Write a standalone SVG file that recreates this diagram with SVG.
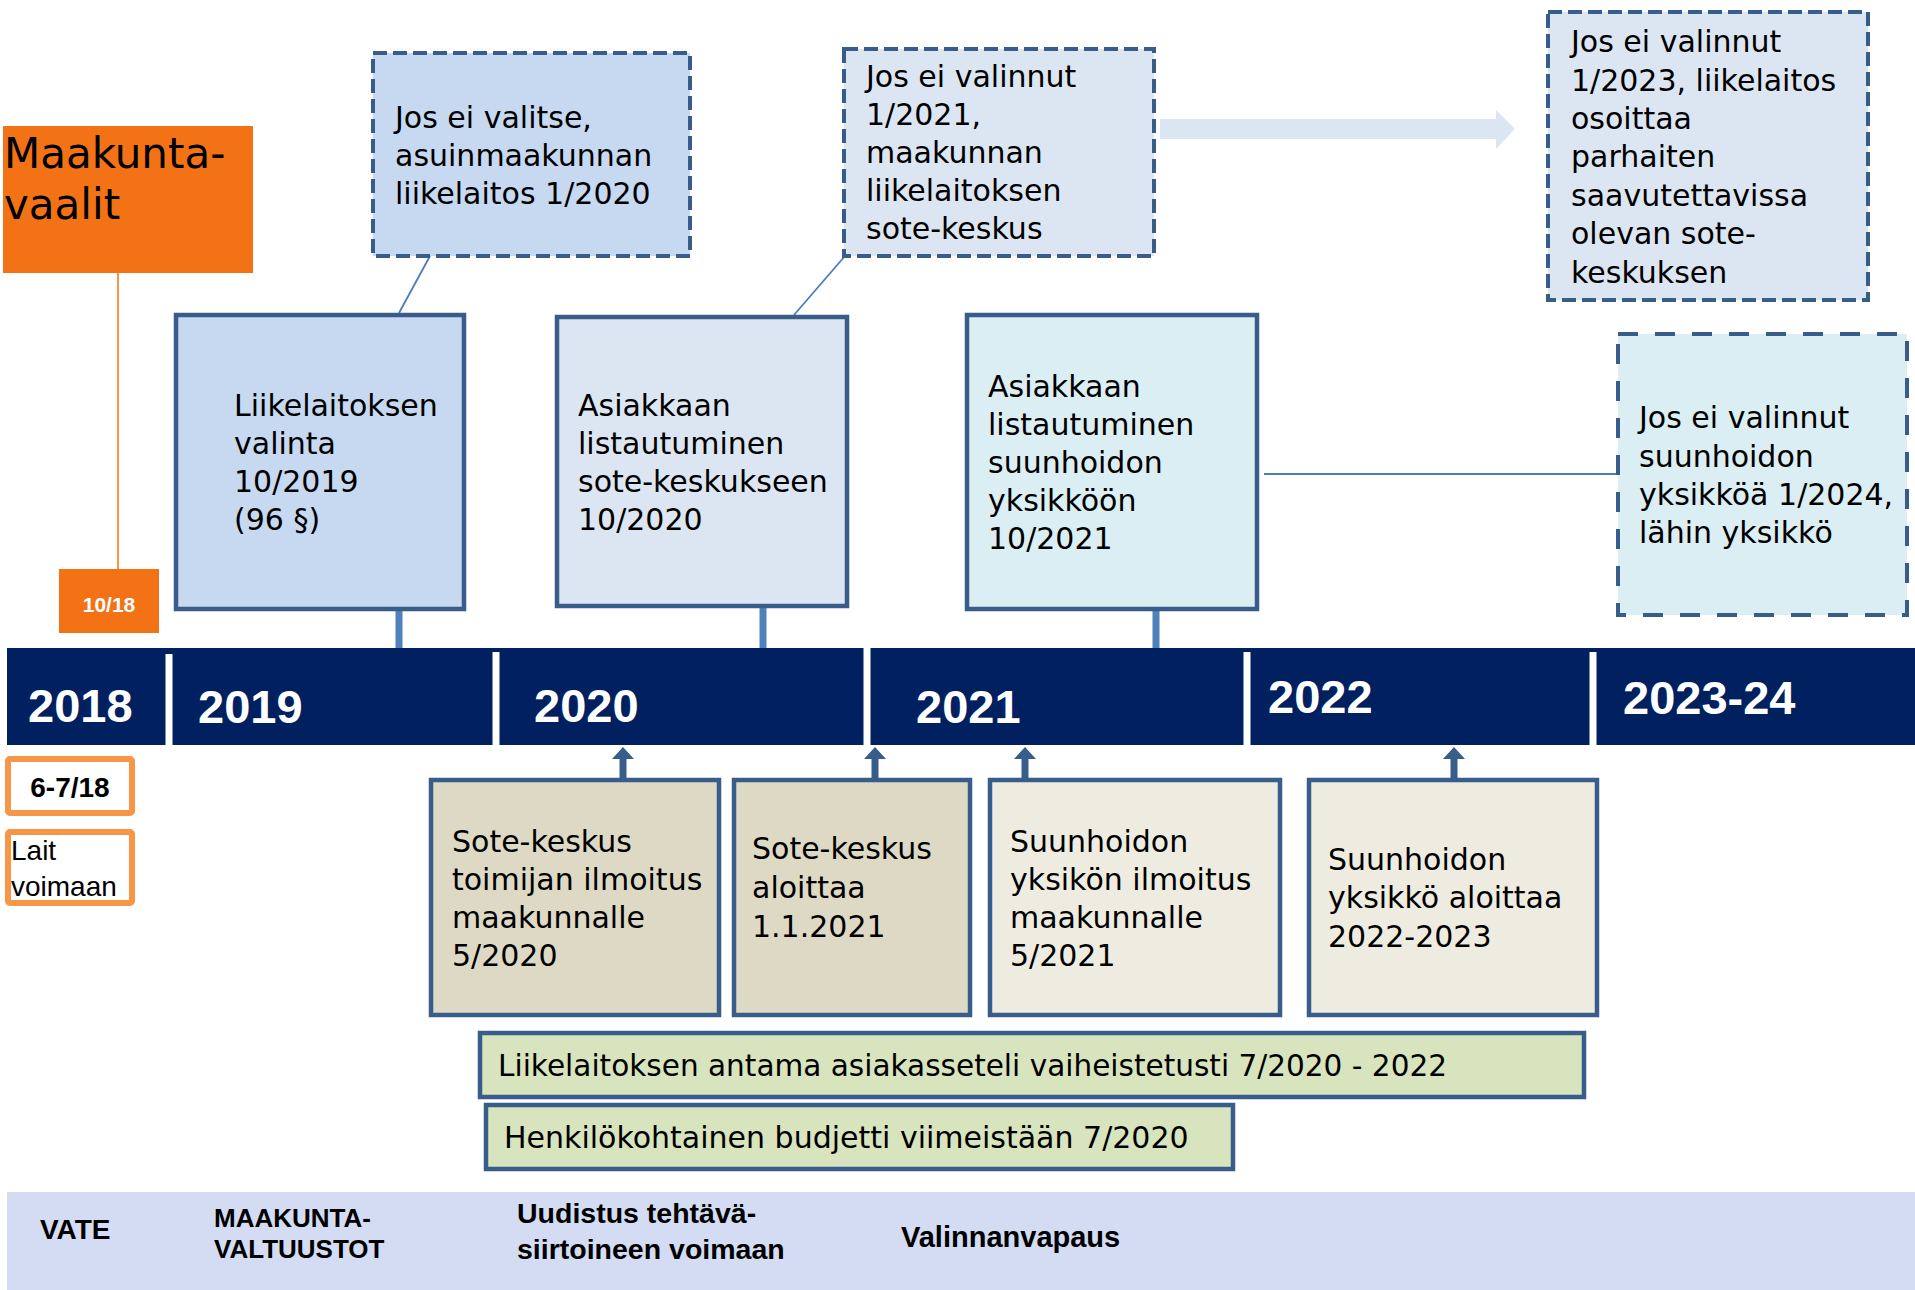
<svg xmlns="http://www.w3.org/2000/svg" width="1915" height="1290" viewBox="0 0 1915 1290">
<defs>
<style>
.t{font-family:"DejaVu Sans","Liberation Sans",sans-serif;font-size:30px;fill:#000}
.big{font-size:42px}
.yr{font-family:"Liberation Sans",Arial,sans-serif;font-weight:bold;font-size:47px;fill:#fff}
.b{font-family:"Liberation Sans",Arial,sans-serif;font-weight:bold;fill:#000}
.solid{stroke:#385D8A;stroke-width:4.5}
.dash{stroke:#385D8A;stroke-width:4;stroke-dasharray:14 6}
.dash2{stroke:#385D8A;stroke-width:4;stroke-dasharray:20 17}
.stub{stroke:#4F81BD;stroke-width:7}
.thin{stroke:#4A7EBB;stroke-width:1.8;fill:none}
.up{stroke:#385D8A;stroke-width:7;marker-end:url(#ah)}
</style>
<marker id="ah" viewBox="0 0 12 22" markerWidth="12" markerHeight="22" markerUnits="userSpaceOnUse" refX="0" refY="11" orient="auto">
<path d="M0,0 L12,11 L0,22 z" fill="#385D8A"/>
</marker>
</defs>
<rect width="1915" height="1290" fill="#fff"/>

<g id="bottom-band">
<rect x="7" y="1192" width="1908" height="98" fill="#D3DCF3"/>
<text class="b" x="40" y="1239" font-size="28">VATE</text>
<text class="b" font-size="26"><tspan x="214" y="1227">MAAKUNTA-</tspan><tspan x="214" y="1258">VALTUUSTOT</tspan></text>
<text class="b" font-size="28.5"><tspan x="517" y="1223">Uudistus tehtävä-</tspan><tspan x="517" y="1259">siirtoineen voimaan</tspan></text>
<text class="b" x="901" y="1247" font-size="29">Valinnanvapaus</text>
</g>

<g id="connectors">
<line x1="118" y1="273" x2="118" y2="569" stroke="#F79646" stroke-width="2"/>
<line class="stub" x1="399" y1="609" x2="399" y2="648"/>
<line class="stub" x1="763" y1="607" x2="763" y2="648"/>
<line class="stub" x1="1156" y1="609" x2="1156" y2="648"/>
<line class="thin" x1="430" y1="256" x2="399" y2="313"/>
<line class="thin" x1="845" y1="256" x2="794" y2="315"/>
<line class="thin" x1="1264" y1="474" x2="1618" y2="474"/>
<path d="M1160,119 L1496,119 L1496,110 L1515,129 L1496,149 L1496,139 L1160,139 z" fill="#DCE6F2"/>
<line class="up" x1="623" y1="778" x2="623" y2="759"/>
<line class="up" x1="875" y1="778" x2="875" y2="759"/>
<line class="up" x1="1025" y1="778" x2="1025" y2="759"/>
<line class="up" x1="1454" y1="778" x2="1454" y2="759"/>
</g>

<g id="timeline-bar">
<rect x="7" y="648" width="1908" height="97" fill="#002060"/>
<g stroke="#fff" stroke-width="7">
<line x1="169" y1="654" x2="169" y2="745"/>
<line x1="496" y1="652" x2="496" y2="745"/>
<line x1="867" y1="648" x2="867" y2="745"/>
<line x1="1247" y1="652" x2="1247" y2="745"/>
<line x1="1593" y1="652" x2="1593" y2="745"/>
</g>
<text class="yr" x="28" y="722">2018</text>
<text class="yr" x="198" y="723">2019</text>
<text class="yr" x="534" y="722">2020</text>
<text class="yr" x="916" y="723">2021</text>
<text class="yr" x="1268" y="713">2022</text>
<text class="yr" x="1623" y="714">2023-24</text>
</g>

<g id="maakuntavaalit">
<rect x="3" y="126" width="250" height="147" fill="#F47216"/>
<text class="t big"><tspan x="4" y="168">Maakunta-</tspan><tspan x="4" y="219">vaalit</tspan></text>
</g>

<g id="d1018">
<rect x="59" y="569" width="100" height="64" fill="#F47216"/>
<text class="b" x="109" y="612" font-size="21" text-anchor="middle" style="fill:#fff">10/18</text>
</g>

<g id="d67-18">
<rect x="8" y="759" width="124" height="54" fill="#fff" stroke="#F79646" stroke-width="6" rx="2"/>
<text class="b" x="70" y="797" font-size="28" text-anchor="middle">6-7/18</text>
</g>

<g id="lait-voimaan">
<rect x="8" y="832" width="124" height="71" fill="#fff" stroke="#F79646" stroke-width="6" rx="2"/>
<text font-family="Liberation Sans, Arial, sans-serif" font-size="28"><tspan x="11" y="860">Lait</tspan><tspan x="11" y="896">voimaan</tspan></text>
</g>

<g id="jos-ei-valitse">
<rect class="dash" x="373" y="53" width="317" height="203" fill="#C6D9F1"/>
<text class="t"><tspan x="395" y="128">Jos ei valitse,</tspan><tspan x="395" y="166">asuinmaakunnan</tspan><tspan x="395" y="204">liikelaitos 1/2020</tspan></text>
</g>

<g id="jos-ei-valinnut-2021">
<rect class="dash" x="844" y="49" width="310" height="207" fill="#DCE6F2"/>
<text class="t"><tspan x="866" y="87">Jos ei valinnut</tspan><tspan x="866" y="125">1/2021,</tspan><tspan x="866" y="163">maakunnan</tspan><tspan x="866" y="201">liikelaitoksen</tspan><tspan x="866" y="239">sote-keskus</tspan></text>
</g>

<g id="jos-ei-valinnut-2023">
<rect class="dash" x="1548" y="12" width="320" height="288" fill="#DCE6F2"/>
<text class="t"><tspan x="1571" y="52">Jos ei valinnut</tspan><tspan x="1571" y="91">1/2023, liikelaitos</tspan><tspan x="1571" y="129">osoittaa</tspan><tspan x="1571" y="167">parhaiten</tspan><tspan x="1571" y="206">saavutettavissa</tspan><tspan x="1571" y="244">olevan sote-</tspan><tspan x="1571" y="283">keskuksen</tspan></text>
</g>

<g id="jos-ei-valinnut-2024">
<rect class="dash2" x="1618" y="334" width="289" height="281" fill="#DBEEF4"/>
<text class="t"><tspan x="1639" y="428">Jos ei valinnut</tspan><tspan x="1639" y="467">suunhoidon</tspan><tspan x="1639" y="505">yksikköä 1/2024,</tspan><tspan x="1639" y="543">lähin yksikkö</tspan></text>
</g>

<g id="liikelaitoksen-valinta">
<rect class="solid" x="176" y="315" width="288" height="294" fill="#C6D9F1"/>
<text class="t"><tspan x="234" y="416">Liikelaitoksen</tspan><tspan x="234" y="454">valinta</tspan><tspan x="234" y="492">10/2019</tspan><tspan x="234" y="530">(96 §)</tspan></text>
</g>

<g id="listautuminen-sote">
<rect class="solid" x="557" y="317" width="290" height="289" fill="#DCE6F2"/>
<text class="t"><tspan x="578" y="416">Asiakkaan</tspan><tspan x="578" y="454">listautuminen</tspan><tspan x="578" y="492">sote-keskukseen</tspan><tspan x="578" y="530">10/2020</tspan></text>
</g>

<g id="listautuminen-suunhoito">
<rect class="solid" x="967" y="315" width="290" height="294" fill="#DBEEF4"/>
<text class="t"><tspan x="988" y="397">Asiakkaan</tspan><tspan x="988" y="435">listautuminen</tspan><tspan x="988" y="473">suunhoidon</tspan><tspan x="988" y="511">yksikköön</tspan><tspan x="988" y="549">10/2021</tspan></text>
</g>

<g id="sote-ilmoitus">
<rect class="solid" x="431" y="780" width="288" height="235" fill="#DDD9C4"/>
<text class="t"><tspan x="452" y="852">Sote-keskus</tspan><tspan x="452" y="890">toimijan ilmoitus</tspan><tspan x="452" y="928">maakunnalle</tspan><tspan x="452" y="966">5/2020</tspan></text>
</g>

<g id="sote-aloittaa">
<rect class="solid" x="734" y="780" width="236" height="235" fill="#DDD9C4"/>
<text class="t"><tspan x="752" y="859">Sote-keskus</tspan><tspan x="752" y="898">aloittaa</tspan><tspan x="752" y="937">1.1.2021</tspan></text>
</g>

<g id="suunhoito-ilmoitus">
<rect class="solid" x="990" y="780" width="290" height="235" fill="#EEECE1"/>
<text class="t"><tspan x="1010" y="852">Suunhoidon</tspan><tspan x="1010" y="890">yksikön ilmoitus</tspan><tspan x="1010" y="928">maakunnalle</tspan><tspan x="1010" y="966">5/2021</tspan></text>
</g>

<g id="suunhoito-aloittaa">
<rect class="solid" x="1309" y="780" width="288" height="235" fill="#EEECE1"/>
<text class="t"><tspan x="1328" y="870">Suunhoidon</tspan><tspan x="1328" y="908">yksikkö aloittaa</tspan><tspan x="1328" y="947">2022-2023</tspan></text>
</g>

<g id="asiakasseteli">
<rect class="solid" x="480" y="1033" width="1104" height="64" fill="#D7E4BD"/>
<text class="t" x="498" y="1076" textLength="949" lengthAdjust="spacingAndGlyphs">Liikelaitoksen antama asiakasseteli vaiheistetusti 7/2020 - 2022</text>
</g>

<g id="henkilokohtainen-budjetti">
<rect class="solid" x="486" y="1105" width="747" height="64" fill="#D7E4BD"/>
<text class="t" x="504" y="1148">Henkilökohtainen budjetti viimeistään 7/2020</text>
</g>
</svg>
